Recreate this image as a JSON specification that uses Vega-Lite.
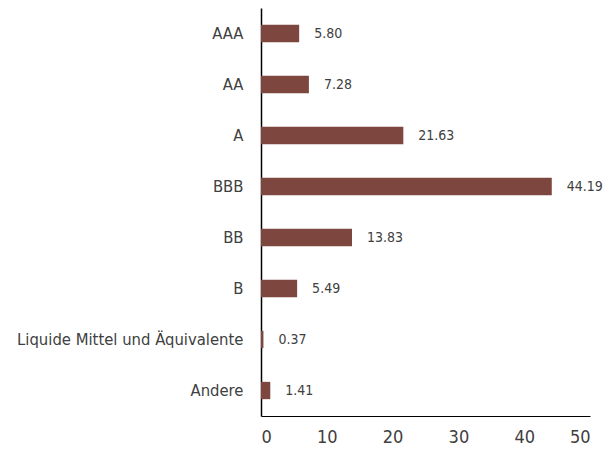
{
  "$schema": "https://vega.github.io/schema/vega-lite/v6.json",
  "width": 329,
  "height": 408,
  "autosize": "none",
  "padding": {"left": 261, "top": 8, "right": 20, "bottom": 40},
  "background": "white",
  "data": {"values": [
    {"cat": "AAA", "v": 5.80},
    {"cat": "AA", "v": 7.28},
    {"cat": "A", "v": 21.63},
    {"cat": "BBB", "v": 44.19},
    {"cat": "BB", "v": 13.83},
    {"cat": "B", "v": 5.49},
    {"cat": "Liquide Mittel und Äquivalente", "v": 0.37},
    {"cat": "Andere", "v": 1.41}
  ]},
  "config": {
    "view": {"stroke": null},
    "font": "DejaVu Sans Condensed"
  },
  "encoding": {
    "y": {"field": "cat", "type": "nominal", "sort": null,
      "scale": {"paddingInner": 0.66, "paddingOuter": 0.33},
      "axis": {"title": null, "ticks": false, "domainColor": "#000", "domainWidth": 1.5, "labelLimit": 0,
        "labelFont": "DejaVu Sans Condensed", "labelFontSize": 16.5, "labelColor": "#404040", "labelPadding": 18}},
    "x": {"field": "v", "type": "quantitative",
      "scale": {"domain": [0, 50]},
      "axis": {"title": null, "ticks": false, "grid": false, "values": [0,10,20,30,40,50],
        "domainColor": "#000", "domainWidth": 1,
        "labelFont": "DejaVu Sans Condensed", "labelFontSize": 18, "labelColor": "#404040", "labelPadding": 12}}
  },
  "layer": [
    {"mark": {"type": "bar", "color": "#7d4740"}},
    {"mark": {"type": "text", "align": "left", "dx": 15, "fontSize": 14, "color": "#404040", "font": "DejaVu Sans Condensed"},
     "encoding": {"text": {"field": "v", "type": "quantitative", "format": ".2f"}}}
  ]
}
